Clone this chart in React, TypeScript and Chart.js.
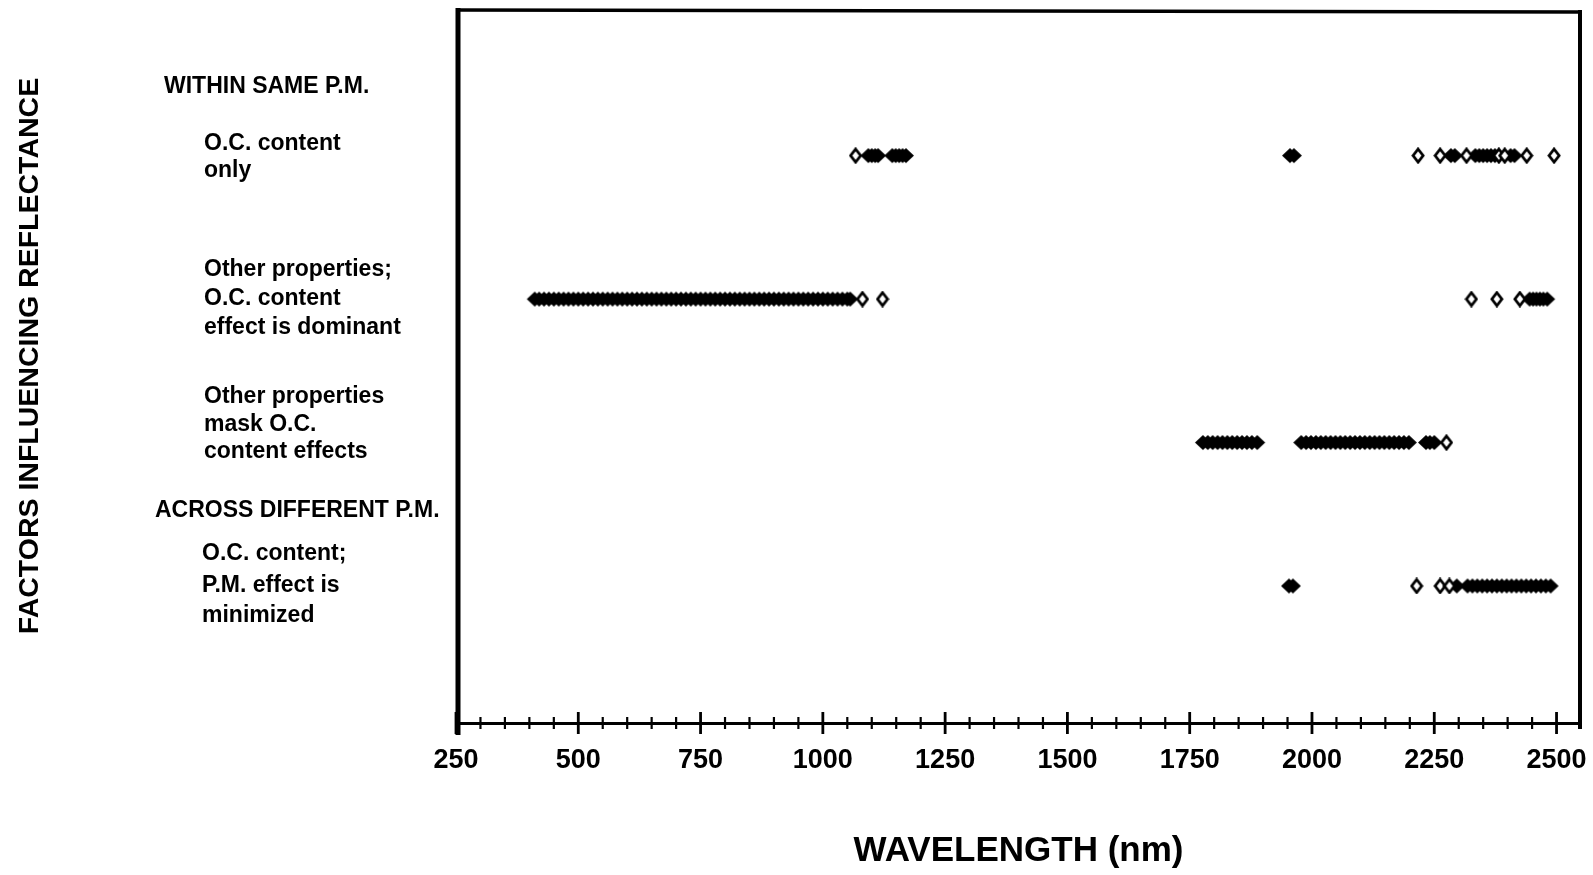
import { useEffect, useRef } from "react";
import { Chart, registerables } from "chart.js";
Chart.register(...registerables);

// Row positions on the (hidden) y scale, top to bottom
const rowY = [4, 3, 2, 1];

// Wavelengths (nm) of significant bands, per row
const row1Filled = [1093, 1100, 1107, 1113, 1142, 1149, 1156, 1163, 1170, 1955, 1963, 2284, 2292, 2334, 2342, 2350, 2358, 2366, 2374, 2406, 2414];
const row1Open = [1067, 2217, 2262, 2316, 2382, 2394, 2439, 2495];

const row2Filled = [411, 420, 430, 440, 450, 460, 470, 480, 490, 500, 510, 520, 530, 540, 550, 560, 570, 580, 590, 600, 610, 620, 630, 640, 650, 660, 670, 680, 690, 700, 710, 720, 730, 740, 750, 760, 770, 780, 790, 800, 810, 820, 830, 840, 850, 860, 870, 880, 890, 900, 910, 920, 930, 940, 950, 960, 970, 980, 990, 1000, 1010, 1020, 1030, 1040, 1050, 1056, 2445, 2452, 2459, 2466, 2473, 2481];
const row2Open = [1081, 1122, 2326, 2378, 2425];

const row3Filled = [1777, 1787, 1797, 1807, 1817, 1827, 1837, 1847, 1857, 1867, 1877, 1888, 1978, 1988, 1998, 2008, 2018, 2028, 2038, 2048, 2058, 2068, 2078, 2088, 2098, 2108, 2118, 2128, 2138, 2148, 2158, 2168, 2178, 2188, 2198, 2233, 2241, 2250];
const row3Open = [2275];

const row4Filled = [1953, 1961, 2296, 2318, 2328, 2338, 2348, 2358, 2368, 2378, 2388, 2398, 2408, 2418, 2428, 2438, 2448, 2458, 2468, 2478, 2488];
const row4Open = [2214, 2262, 2281];

// Axis tick labels
const xTickLabels = [250, 500, 750, 1000, 1250, 1500, 1750, 2000, 2250, 2500];

// Row annotations (left side)
const headerLabels = ["WITHIN SAME P.M.", "ACROSS DIFFERENT P.M."];
const rowLabels = [
  ["O.C. content", "only"],
  ["Other properties;", "O.C. content", "effect is dominant"],
  ["Other properties", "mask O.C.", "content effects"],
  ["O.C. content;", "P.M. effect is", "minimized"],
];
const yTitle = "FACTORS INFLUENCING REFLECTANCE";
const xTitle = "WAVELENGTH (nm)";

const FONT = "'Liberation Sans', Arial, sans-serif";

function makeDiamond(w: number, h: number, filled: boolean) {
  const pad = 2;
  const c = document.createElement("canvas");
  c.width = w + pad * 2;
  c.height = h + pad * 2;
  const ctx = c.getContext("2d")!;
  ctx.beginPath();
  const cx = c.width / 2, cy = c.height / 2;
  ctx.moveTo(cx, cy - h / 2);
  ctx.lineTo(cx + w / 2, cy);
  ctx.lineTo(cx, cy + h / 2);
  ctx.lineTo(cx - w / 2, cy);
  ctx.closePath();
  if (filled) {
    ctx.fillStyle = "#000";
    ctx.fill();
  } else {
    ctx.fillStyle = "#fff";
    ctx.fill();
    ctx.lineWidth = 2.8;
    ctx.strokeStyle = "#000";
    ctx.stroke();
  }
  return c;
}

const toPts = (xs: number[], y: number) => xs.map((x) => ({ x, y }));

export default function App() {
  const ref = useRef<HTMLCanvasElement | null>(null);
  useEffect(() => {
    const canvas = ref.current!;
    const filledImg = makeDiamond(16, 15, true);
    const openImg = makeDiamond(10, 13, false);

    const framePlugin = {
      id: "frame",
      afterDraw(chart: any) {
        const { ctx, chartArea } = chart;
        const x = chart.scales.x;
        const y = chart.scales.y;
        ctx.save();
        ctx.strokeStyle = "#000";
        ctx.lineCap = "butt";
        // left
        ctx.lineWidth = 5;
        ctx.beginPath();
        ctx.moveTo(chartArea.left + 2, chartArea.top - 2);
        ctx.lineTo(chartArea.left + 2, chartArea.bottom + 12);
        ctx.stroke();
        // top
        ctx.lineWidth = 3.5;
        ctx.beginPath();
        ctx.moveTo(chartArea.left, chartArea.top);
        ctx.lineTo(chartArea.right, chartArea.top + 2);
        ctx.stroke();
        // right
        ctx.lineWidth = 4;
        ctx.beginPath();
        ctx.moveTo(chartArea.right - 1, chartArea.top);
        ctx.lineTo(chartArea.right - 1, chartArea.bottom + 6);
        ctx.stroke();
        // tick marks crossing the axis
        const ay = chartArea.bottom;
        x.ticks.forEach((t: any) => {
          if (t.value > 2500) return;
          const px = x.getPixelForValue(t.value);
          const major = t.value % 250 === 0;
          const len = major ? 11 : 6;
          ctx.lineWidth = major ? 2.8 : 2.2;
          ctx.beginPath();
          ctx.moveTo(px, ay - len);
          ctx.lineTo(px, ay + len);
          ctx.stroke();
        });
        // left annotations
        ctx.fillStyle = "#000";
        ctx.textBaseline = "middle";
        ctx.textAlign = "left";
        ctx.font = `bold 23px ${FONT}`;
        ctx.fillText(headerLabels[0], 164, y.getPixelForValue(rowY[0]) - 69);
        ctx.fillText(headerLabels[1], 155, y.getPixelForValue(rowY[3]) - 75);
        const offsets = [
          [-12, 15],
          [-29, 0, 29],
          [-46, -18, 9],
          [-32, 0, 30],
        ];
        const xs = [204, 204, 204, 202];
        rowLabels.forEach((lines, i) => {
          const py = y.getPixelForValue(rowY[i]);
          lines.forEach((s, j) => ctx.fillText(s, xs[i], py + offsets[i][j]));
        });
        // y title
        ctx.save();
        ctx.translate(30, 356);
        ctx.rotate(-Math.PI / 2);
        ctx.textAlign = "center";
        ctx.font = `bold 28.5px ${FONT}`;
        ctx.fillText(yTitle, 0, 0);
        ctx.restore();
        ctx.restore();
      },
    };

    const chart = new Chart(canvas, {
      type: "scatter",
      data: {
        datasets: [
          {
            label: "open",
            data: [
              ...toPts(row1Open, rowY[0]),
              ...toPts(row2Open, rowY[1]),
              ...toPts(row3Open, rowY[2]),
              ...toPts(row4Open, rowY[3]),
            ],
            pointStyle: openImg as any,
            pointRadius: 6,
          },
          {
            label: "filled",
            data: [
              ...toPts(row1Filled, rowY[0]),
              ...toPts(row2Filled, rowY[1]),
              ...toPts(row3Filled, rowY[2]),
              ...toPts(row4Filled, rowY[3]),
            ],
            pointStyle: filledImg as any,
            pointRadius: 6,
          },
        ],
      },
      options: {
        animation: false,
        responsive: false,
        devicePixelRatio: 1,
        events: [],
        layout: { padding: { left: 456, right: 12, top: 10, bottom: 0 } },
        plugins: { legend: { display: false }, tooltip: { enabled: false } },
        scales: {
          x: {
            type: "linear",
            min: 250,
            max: 2550,
            afterFit: (s: any) => {
              s.height = 152;
              s.paddingLeft = 0;
              s.paddingRight = 0;
            },
            grid: { display: false, drawTicks: false },
            border: { display: true, color: "#000", width: 3 },
            ticks: {
              stepSize: 50,
              autoSkip: false,
              maxRotation: 0,
              padding: 21,
              color: "#000",
              font: { family: FONT, size: 27, weight: "bold" },
              callback: (v: any) => (xTickLabels.includes(Number(v)) ? String(v) : ""),
            },
            title: {
              display: true,
              text: xTitle,
              color: "#000",
              font: { family: FONT, size: 35, weight: "bold" },
              padding: { top: 0, bottom: 3 },
            },
          },
          y: {
            type: "linear",
            display: false,
            min: 0.045,
            max: 5.015,
          },
        },
      },
      plugins: [framePlugin],
    });
    return () => chart.destroy();
  }, []);

  return (
    <div style={{ position: "fixed", left: 0, top: 0, width: 1593, height: 875, background: "#fff" }}>
      <canvas ref={ref} width={1593} height={875} style={{ width: 1593, height: 875, display: "block" }} />
    </div>
  );
}
